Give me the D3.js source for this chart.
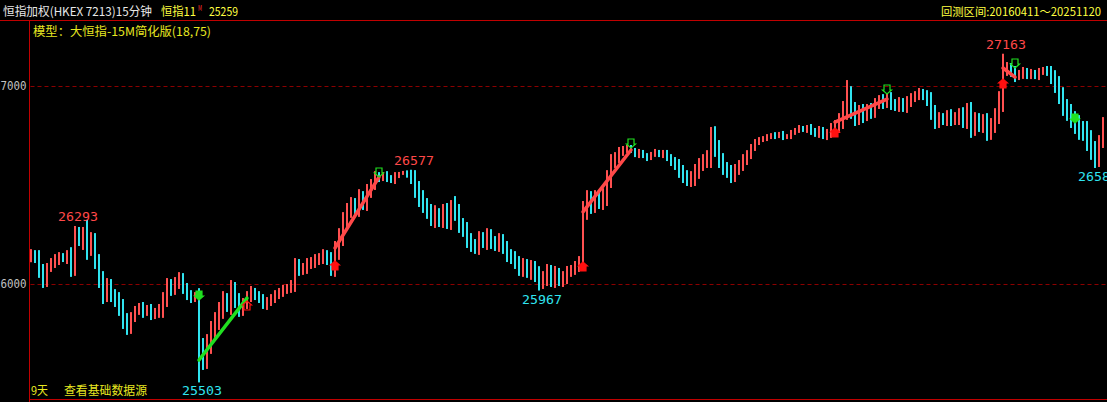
<!DOCTYPE html>
<html>
<head>
<meta charset="utf-8">
<script src="https://cdn.jsdelivr.net/npm/d3@7"></script>
<style>
	body { margin: 0; background: #000; }
	#chart-area { width: 1107px; height: 402px; }
	svg { display: block; }
</style>
</head>
<body>
<div id="chart-area"></div>
<script>

// 15-minute closes, left to right
const closes = [
	26146, 26131, 26071, 26010, 26081, 26111, 26121, 26136, 26131, 26141,
	26081, 26283, 26197, 26263, 26182, 26222, 26111, 26020, 25944, 25995,
	25939, 25919, 25879, 25818, 25778, 25828, 25869, 25879, 25859, 25874,
	25843, 25859, 25869, 25919, 25995, 25970, 26010, 26025, 25980, 25944,
	25929, 25939, 25667, 25626, 25692, 25768, 25808, 25869, 25919, 25894,
	25970, 25919, 25869, 25899, 25939, 25960, 25939, 25929, 25894, 25909,
	25929, 25944, 25960, 25970, 25980, 25995, 26096, 26071, 26081, 26101,
	26111, 26121, 26131, 26146, 26121, 26081, 26172, 26232, 26323, 26374,
	26399, 26384, 26434, 26409, 26465, 26500, 26545, 26535, 26550, 26535,
	26525, 26545, 26556, 26566, 26545, 26535, 26475, 26434, 26399, 26364,
	26333, 26348, 26323, 26364, 26323, 26399, 26364, 26298, 26273, 26222,
	26197, 26182, 26232, 26212, 26242, 26212, 26197, 26222, 26182, 26146,
	26131, 26111, 26071, 26096, 26061, 26081, 26045, 26010, 26030, 26061,
	26020, 26051, 26020, 26030, 26061, 26071, 26091, 26111, 26374, 26424,
	26399, 26434, 26414, 26444, 26525, 26616, 26636, 26667, 26677, 26687,
	26677, 26651, 26667, 26646, 26636, 26657, 26667, 26651, 26662, 26636,
	26616, 26601, 26566, 26545, 26525, 26535, 26566, 26601, 26626, 26636,
	26752, 26687, 26626, 26586, 26566, 26545, 26576, 26601, 26626, 26651,
	26687, 26717, 26727, 26737, 26742, 26752, 26747, 26758, 26742, 26747,
	26763, 26778, 26788, 26778, 26788, 26773, 26758, 26778, 26747, 26763,
	26788, 26798, 26828, 26879, 26954, 26879, 26838, 26869, 26853, 26879,
	26869, 26909, 26929, 26914, 26939, 26909, 26899, 26914, 26894, 26919,
	26939, 26954, 26965, 26949, 26929, 26869, 26818, 26838, 26828, 26848,
	26833, 26838, 26853, 26828, 26869, 26788, 26828, 26803, 26818, 26768,
	26798, 26853, 26929, 27081, 27091, 27071, 27050, 27061, 27071, 27055,
	27066, 27050, 27071, 27081, 27071, 27040, 27005, 26954, 26889, 26869,
	26828, 26803, 26778, 26768, 26727, 26677, 26616, 26727, 26803
];
const firstOpen = 26140;

// wick length beyond the body, in points, per bar
const wicks = [
	30, 25, 40, 30, 25, 20, 30, 25, 20, 30,
	45, 40, 5, 25, 60, 40, 35, 40, 45, 35,
	30, 35, 40, 45, 35, 30, 20, 25, 30, 20,
	25, 20, 30, 40, 35, 30, 25, 35, 30, 25,
	25, 20, 40, 60, 55, 45, 50, 40, 45, 35,
	50, 40, 35, 30, 25, 30, 20, 25, 20, 25,
	20, 25, 20, 25, 20, 25, 35, 30, 25, 30,
	25, 30, 25, 30, 25, 40, 45, 50, 40, 35,
	40, 35, 45, 35, 40, 30, 25, 20, 15, 20,
	15, 20, 10, 5, 8, 30, 40, 45, 40, 35,
	40, 50, 35, 40, 45, 50, 45, 40, 35, 40,
	35, 30, 35, 30, 40, 35, 30, 35, 30, 35,
	30, 35, 30, 35, 30, 40, 35, 45, 35, 40,
	35, 40, 30, 35, 30, 25, 25, 30, 45, 50,
	45, 40, 35, 40, 50, 40, 30, 25, 20, 15,
	15, 10, 15, 10, 15, 10, 15, 10, 15, 15,
	20, 25, 30, 35, 30, 35, 40, 35, 30, 40,
	50, 45, 40, 35, 30, 35, 30, 25, 30, 25,
	20, 15, 15, 10, 15, 10, 15, 10, 15, 10,
	15, 10, 15, 10, 15, 20, 15, 20, 15, 20,
	25, 30, 35, 45, 50, 45, 40, 35, 40, 30,
	35, 30, 25, 30, 25, 30, 25, 30, 25, 30,
	25, 20, 25, 20, 30, 40, 35, 30, 25, 30,
	35, 30, 35, 40, 45, 50, 40, 35, 40, 45,
	40, 35, 45, 60, 30, 25, 30, 20, 25, 20,
	20, 15, 20, 15, 20, 30, 40, 45, 40, 45,
	40, 45, 50, 45, 55, 50, 45, 25, 40
];

// wick extremes: [bar index, price]
const wickHighs = [[11, 26293], [95, 26577], [105, 26424], [170, 26793], [204, 27030], [243, 27163]];
const wickLows = [[42, 25503], [127, 25967], [266, 26586]];
const highLabelBars = [11, 95, 243];
const lowLabelBars = [42, 127, 266];

const yTicks = [26000, 27000];

// trade lines: entry bar/price -> exit bar/price
const tradeFrom = [42, 76, 138, 201, 243];
const tradeFromPrice = [25616, 26182, 26364, 26818, 27091];
const tradeTo = [54, 87, 150, 214, 246];
const tradeToPrice = [25929, 26540, 26677, 26934, 27045];
const tradeSide = ["short", "long", "long", "long", "long"];

// signal arrows: bar, price at the arrow tip, kind
const signalBars = [42, 54, 76, 87, 138, 150, 201, 214, 243, 246, 261];
const signalPrices = [25919, 25914, 26116, 26540, 26111, 26687, 26788, 26959, 27035, 27091, 26813];
const signalKinds = ["sellOpen", "sellClose", "buyOpen", "buyClose", "buyOpen", "buyClose",
	"buyOpen", "buyClose", "buyOpen", "buyClose", "sellOpen"];


class KlineVis {

	constructor(_parentElement) {
		this.parentElement = _parentElement;
		this.initVis();
	}

	initVis() {
		let vis = this;

		vis.width = 1107;
		vis.height = 402;
		vis.plotLeft = 29.5;

		vis.svg = d3.select("#" + vis.parentElement).append("svg")
			.attr("width", vis.width)
			.attr("height", vis.height)
			.style("background", "#000");

		vis.cjk = "'Noto Sans CJK SC', sans-serif";
		vis.mono = "'DejaVu Sans Mono', monospace";

		// Scales
		vis.x = d3.scaleLinear()
			.domain([0, closes.length - 1])
			.range([31, 1103]);

		vis.y = d3.scaleLinear()
			.domain([26000, 27000])
			.range([284, 86]);

		// Frame
		vis.svg.append("line")
			.attr("x1", 0).attr("x2", vis.width)
			.attr("y1", 20.5).attr("y2", 20.5)
			.attr("stroke", "#c00000");
		vis.svg.append("line")
			.attr("x1", vis.plotLeft).attr("x2", vis.plotLeft)
			.attr("y1", 20.5).attr("y2", vis.height)
			.attr("stroke", "#c00000");
		vis.svg.append("line")
			.attr("x1", vis.plotLeft).attr("x2", vis.width)
			.attr("y1", 399.5).attr("y2", 399.5)
			.attr("stroke", "#c00000");

		// Grid lines
		vis.svg.append("g").selectAll("line")
			.data(yTicks)
			.enter().append("line")
			.attr("x1", vis.plotLeft + 1).attr("x2", vis.width)
			.attr("y1", d => Math.round(vis.y(d)) + 0.5)
			.attr("y2", d => Math.round(vis.y(d)) + 0.5)
			.attr("stroke", "#8c0000")
			.attr("stroke-dasharray", "4,3");

		// Y axis (leading digit falls off the left edge, as in the terminal)
		vis.yAxis = d3.axisLeft(vis.y)
			.tickValues(yTicks)
			.tickSize(0)
			.tickPadding(3)
			.tickFormat(d3.format("d"));

		let axisG = vis.svg.append("g")
			.attr("class", "y-axis")
			.attr("transform", "translate(" + vis.plotLeft + ",0)")
			.call(vis.yAxis);
		axisG.select(".domain").remove();
		axisG.selectAll("text")
			.attr("fill", "#c0c0c0")
			.attr("font-family", vis.mono)
			.attr("font-size", 12)
			.attr("textLength", 32.5)
			.attr("lengthAdjust", "spacingAndGlyphs");

		// Header texts
		vis.addText("恒指加权(HKEX 7213)15分钟", 3, 16, 149, "#e8e8e8");
		vis.addText("恒指11", 161, 16, 35, "#ffff40");
		vis.addText("M", 198, 11, 4, "#ff3030", 7);
		vis.addText("25259", 209, 16, 29, "#ffff40");
		vis.addText("回测区间:20160411～20251120", 941, 16, 160, "#ffff40", 11.5);
		vis.addText("模型：大恒指-15M简化版(18,75)", 33, 36, 178, "#e8e820");
		vis.addText("9天", 31, 395, 17, "#e8e820");
		vis.addText("查看基础数据源", 64, 395, 83, "#e8e820");

		vis.wrangleData();
	}

	addText(str, x, y, len, color, size) {
		this.svg.append("text")
			.attr("x", x)
			.attr("y", y)
			.attr("fill", color)
			.attr("font-family", this.cjk)
			.attr("font-size", size || 12)
			.attr("textLength", len)
			.attr("lengthAdjust", "spacingAndGlyphs")
			.text(str);
	}

	wrangleData() {
		let vis = this;

		let hi = new Map(wickHighs);
		let lo = new Map(wickLows);

		vis.bars = closes.map((c, i) => {
			let o = i === 0 ? firstOpen : closes[i - 1];
			return {
				i: i,
				open: o,
				close: c,
				high: hi.has(i) ? hi.get(i) : Math.max(o, c) + wicks[i],
				low: lo.has(i) ? lo.get(i) : Math.min(o, c) - wicks[i]
			};
		});

		vis.updateVis();
	}

	updateVis() {
		let vis = this;

		// Bars
		vis.svg.append("g").selectAll("rect")
			.data(vis.bars)
			.enter().append("rect")
			.attr("x", d => Math.round(vis.x(d.i)) - 1)
			.attr("width", 2)
			.attr("y", d => vis.y(d.high))
			.attr("height", d => Math.max(1, vis.y(d.low) - vis.y(d.high)))
			.attr("fill", d => d.close > d.open ? "#ff5050" : (d.close < d.open ? "#30e4f0" : "#ffffff"));

		// Trade lines
		vis.svg.append("g").selectAll("line")
			.data(tradeFrom)
			.enter().append("line")
			.attr("x1", (d, k) => vis.x(d))
			.attr("y1", (d, k) => vis.y(tradeFromPrice[k]))
			.attr("x2", (d, k) => vis.x(tradeTo[k]))
			.attr("y2", (d, k) => vis.y(tradeToPrice[k]))
			.attr("stroke", (d, k) => tradeSide[k] === "short" ? "#20e020" : "#ff4848")
			.attr("stroke-width", 3.5)
			.attr("stroke-linecap", "round");

		// Signal arrows
		let downArrow = "M-3,-9L3,-9L3,-4L4.5,-4L0,0L-4.5,-4L-3,-4Z";
		let upArrow = "M-3,9L3,9L3,4L4.5,4L0,0L-4.5,4L-3,4Z";

		vis.svg.append("g").selectAll("path")
			.data(signalBars)
			.enter().append("path")
			.attr("transform", (d, k) => "translate(" + Math.round(vis.x(d)) + "," + Math.round(vis.y(signalPrices[k])) + ")")
			.attr("d", (d, k) => {
				let kind = signalKinds[k];
				return (kind === "sellOpen" || kind === "buyClose") ? downArrow : upArrow;
			})
			.attr("fill", (d, k) => {
				let kind = signalKinds[k];
				if (kind === "sellOpen") return "#20e020";
				if (kind === "buyOpen") return "#ff1010";
				return "none";
			})
			.attr("stroke", (d, k) => {
				let kind = signalKinds[k];
				if (kind === "sellOpen" || kind === "buyClose") return "#20e020";
				return "#ff1010";
			})
			.attr("stroke-width", 1.2);

		// Extreme price labels
		vis.svg.append("g").selectAll("text")
			.data(highLabelBars)
			.enter().append("text")
			.attr("x", d => vis.x(d) - 17)
			.attr("y", d => vis.y(vis.bars[d].high) - 5)
			.attr("fill", "#ff4848")
			.attr("font-family", vis.mono)
			.attr("font-size", 13)
			.attr("textLength", 40)
			.attr("lengthAdjust", "spacingAndGlyphs")
			.text(d => vis.bars[d].high);

		vis.svg.append("g").selectAll("text")
			.data(lowLabelBars)
			.enter().append("text")
			.attr("x", d => vis.x(d) - 17)
			.attr("y", d => vis.y(vis.bars[d].low) + 13)
			.attr("fill", "#30e4f0")
			.attr("font-family", vis.mono)
			.attr("font-size", 13)
			.attr("textLength", 40)
			.attr("lengthAdjust", "spacingAndGlyphs")
			.text(d => vis.bars[d].low);
	}
}

let klineVis = new KlineVis("chart-area");

</script>
</body>
</html>
